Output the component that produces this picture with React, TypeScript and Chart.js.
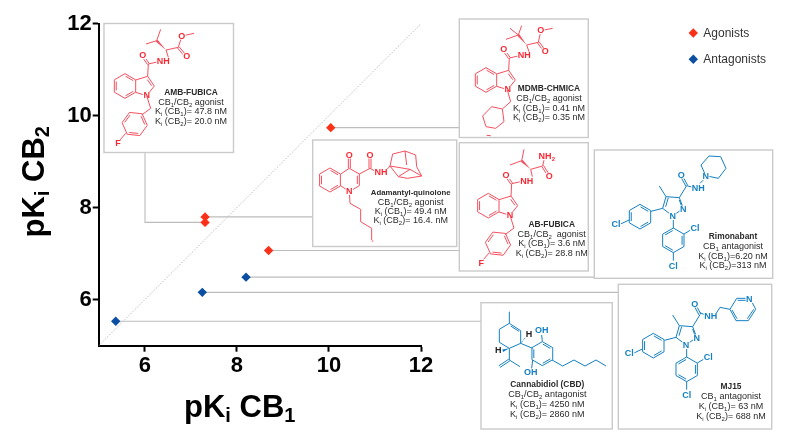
import { useEffect, useRef } from "react"
import { Chart, registerables } from "chart.js"

Chart.register(...registerables)

const FONT = '"Liberation Sans", Arial, sans-serif'
const RED_LINE = "#f4505f"
const RED_TEXT = "#f62a35"
const BLUE = "#1580c2"
const BOX_GRAY = "#cacaca"
const LEADER_GRAY = "#bcbcbc"

// pKi values
const agonistCB1 = [10.04, 7.31, 7.31, 8.69]
const agonistCB2 = [9.74, 7.8, 7.68, 7.07]
const antagonistCB1 = [8.2, 7.25, 5.37]
const antagonistCB2 = [6.49, 6.16, 5.53]
const identityLine = [5, 12]
const tickValues = [6, 8, 10, 12]

const seriesNames = ["Agonists", "Antagonists"]

type Seg = number[]
type Label = [string, number, number, string?]
type Frag = { lines: Seg[]; labels: Label[]; wedges?: Seg[]; dashes?: Seg[] }

// ---- little helpers for the structures, coordinates are 3x crop units
function hex(cx: number, cy: number, r: number, rot = 0, first = 0): Seg[] {
  const pts: number[][] = []
  for (let i = 0; i < 6; i++) {
    const a = ((-90 + rot + i * 60) * Math.PI) / 180
    pts.push([cx + r * Math.cos(a), cy + r * Math.sin(a)])
  }
  const out: Seg[] = [[...pts.flat(), pts[0][0], pts[0][1]]]
  if (first >= 0) {
    for (let i = first; i < first + 6; i += 2) {
      const p = pts[i % 6]
      const q = pts[(i + 1) % 6]
      const mx = (p[0] + q[0]) / 2
      const my = (p[1] + q[1]) / 2
      const k = 0.72
      const ix = cx + (mx - cx) * 0.82
      const iy = cy + (my - cy) * 0.82
      out.push([ix + ((p[0] - mx) * k), iy + ((p[1] - my) * k), ix + ((q[0] - mx) * k), iy + ((q[1] - my) * k)])
    }
  }
  return out
}

function dbl(x1: number, y1: number, x2: number, y2: number): Seg[] {
  const l = Math.hypot(x2 - x1, y2 - y1)
  const nx = ((y2 - y1) / l) * 3
  const ny = (-(x2 - x1) / l) * 3
  return [
    [x1 + nx, y1 + ny, x2 + nx, y2 + ny],
    [x1 - nx, y1 - ny, x2 - nx, y2 - ny],
  ]
}

const indoleAmide: Frag = {
  lines: [
    ...hex(195, 258, 37, 0, 0),
    [227, 240, 263, 229, 283, 258, 260, 287, 227, 277],
    [262, 239, 275, 257],
    [263, 229, 265, 192],
    ...dbl(265, 192, 248, 168),
    [265, 192, 300, 184],
  ],
  labels: [["O", 248, 167], ["NH", 310, 185], ["N", 260, 287]],
}

const fluoroBenzyl: Frag = {
  lines: [[260, 287, 272, 325, 245, 345], ...hex(224, 372, 38, -24, 1), [197, 400, 180, 420]],
  labels: [["F", 174, 430]],
}

const ambTail: Frag = {
  lines: [
    [318, 150, 325, 172],
    [318, 150, 355, 142, 365, 110],
    ...dbl(355, 142, 378, 170),
    [365, 108, 402, 100],
    [290, 122, 258, 132],
    [290, 122, 302, 88],
  ],
  wedges: [[318, 150, 290, 122]],
  labels: [["O", 365, 108], ["O", 380, 170]],
}

const mdmbTail: Frag = {
  lines: [
    [680, 105, 687, 125],
    [680, 105, 715, 97, 722, 65],
    ...dbl(715, 97, 735, 125),
    [722, 62, 758, 55],
    [655, 75, 618, 88],
    [655, 75, 630, 55],
    [655, 75, 665, 47],
    [622, 240, 632, 275, 607, 297],
    [607, 297, 612, 335, 587, 355, 558, 350, 548, 318, 575, 290, 607, 297],
    [560, 376, 572, 377],
  ],
  wedges: [[680, 105, 655, 75]],
  labels: [["O", 722, 62], ["O", 736, 125]],
}

const abTail: Frag = {
  lines: [
    [692, 478, 697, 500],
    [692, 478, 728, 468, 732, 450],
    ...dbl(728, 468, 746, 496),
    [665, 452, 630, 465],
    [665, 452, 672, 418],
  ],
  wedges: [[692, 478, 665, 452]],
  labels: [["NH2", 735, 440], ["O", 748, 499]],
}

const quinolone: Frag = {
  lines: [
    ...hex(90, 510, 36, 0, 0),
    [122, 492, 148, 475, 178, 492, 178, 527, 148, 545, 122, 527],
    [172, 497, 172, 522],
    ...dbl(148, 475, 148, 437),
    [178, 492, 210, 475, 232, 487],
    ...dbl(210, 475, 210, 437),
    [256, 484, 270, 468],
    [270, 468, 278, 432, 315, 423, 347, 435, 350, 470, 365, 498, 322, 505, 295, 500, 270, 468],
    [315, 423, 320, 465],
    [270, 468, 330, 478, 365, 498],
    [295, 500, 330, 478],
    [148, 545, 150, 580, 182, 598, 182, 635, 215, 655, 215, 690],
    [215, 693, 220, 693],
  ],
  labels: [["O", 148, 435], ["O", 210, 435], ["NH", 243, 488], ["N", 148, 544]],
}

// rimonabant crop units; MJ15 reuses it with a shift
const pyrazole: Frag = {
  lines: [
    [228, 500, 268, 503, 280, 535, 248, 558, 218, 535, 228, 500],
    [235, 503, 227, 530],
    [268, 510, 276, 532],
    [228, 500, 208, 468],
    [268, 503, 290, 467],
    ...dbl(290, 467, 274, 437),
    ...hex(150, 560, 37, 0, 0),
    [218, 535, 183, 544],
    [117, 570, 92, 582],
    [250, 570, 250, 595],
    ...hex(250, 631, 37, 0, 1),
    [282, 612, 302, 600],
    [250, 668, 250, 692],
  ],
  labels: [["N", 280, 537], ["N", 248, 559], ["Cl", 78, 584], ["Cl", 315, 596], ["Cl", 250, 708], ["O", 274, 435]],
}

const piperidine: Frag = {
  lines: [
    [290, 467, 312, 473],
    [330, 460, 345, 445],
    [347, 437, 333, 405, 357, 378, 392, 380, 408, 415, 385, 445, 347, 437],
  ],
  labels: [["NH", 325, 474], ["N", 347, 440]],
}

const pyridylMethyl: Frag = {
  lines: [
    [690, 98, 708, 106],
    [735, 106, 750, 82, 780, 88],
    [780, 88, 800, 55, 828, 55],
    [847, 68, 857, 88, 835, 122, 798, 122, 780, 88],
    [803, 61, 828, 61],
    [851, 88, 832, 116],
    [801, 116, 786, 90],
  ],
  labels: [["NH", 722, 110], ["N", 838, 57]],
}

const cannabidiol: Frag = {
  lines: [
    [118, 95, 118, 130],
    [118, 130, 152, 152, 152, 190, 118, 205, 88, 187, 88, 148, 118, 130],
    [122, 138, 147, 154],
    [152, 190, 188, 205],
    ...hex(217, 221, 36, 0, 0),
    [217, 185, 215, 165],
    [188, 240, 185, 265],
    [246, 240, 278, 258, 312, 240, 345, 258, 378, 240, 408, 258],
    [118, 205, 118, 240, 150, 260],
    ...dbl(118, 240, 88, 260),
  ],
  wedges: [[118, 205, 98, 212]],
  dashes: [[152, 190, 170, 168]],
  labels: [["OH", 215, 150], ["OH", 182, 278]],
}

const cbdHydrogens: Frag = {
  lines: [],
  labels: [["H", 177, 162, "#222"], ["H", 85, 212, "#222"]],
}

type Placed = { frag: Frag; ox: number; oy: number; dx?: number; dy?: number; color: string; text?: string }

const molecules: Placed[] = [
  { frag: indoleAmide, ox: 60, oy: 0, color: RED_LINE, text: RED_TEXT },
  { frag: fluoroBenzyl, ox: 60, oy: 0, color: RED_LINE, text: RED_TEXT },
  { frag: ambTail, ox: 60, oy: 0, color: RED_LINE, text: RED_TEXT },
  { frag: indoleAmide, ox: 300, oy: 10, dx: 363, dy: -48, color: RED_LINE, text: RED_TEXT },
  { frag: mdmbTail, ox: 300, oy: 10, color: RED_LINE, text: RED_TEXT },
  { frag: indoleAmide, ox: 300, oy: 10, dx: 370, dy: 329, color: RED_LINE, text: RED_TEXT },
  { frag: fluoroBenzyl, ox: 300, oy: 10, dx: 370, dy: 329, color: RED_LINE, text: RED_TEXT },
  { frag: abTail, ox: 300, oy: 10, color: RED_LINE, text: RED_TEXT },
  { frag: quinolone, ox: 300, oy: 10, color: RED_LINE, text: RED_TEXT },
  { frag: pyrazole, ox: 590, oy: 30, color: BLUE },
  { frag: piperidine, ox: 590, oy: 30, color: BLUE },
  { frag: pyrazole, ox: 470, oy: 280, dx: 400, dy: -363, color: BLUE },
  { frag: pyridylMethyl, ox: 470, oy: 280, color: BLUE },
  { frag: cannabidiol, ox: 470, oy: 280, color: BLUE },
  { frag: cbdHydrogens, ox: 470, oy: 280, color: BLUE },
]

// compound cards: box, text centre and four baselines
const cards = [
  { box: [104, 23.5, 129.5, 129], cx: 191, base: [95, 104.7, 114, 124], nameSize: 8.4, name: "AMB-FUBICA", role: "CB_1/CB_2 agonist", k1: "K_i (CB_1)= 47.8 nM", k2: "K_i (CB_2)= 20.0 nM" },
  { box: [312.7, 140, 144, 106.5], cx: 410.7, base: [195.3, 205, 213.5, 222.7], nameSize: 7.8, name: "Adamantyl-quinolone", role: "CB_1/CB_2 agonist", k1: "K_i (CB_1)= 49.4 nM", k2: "K_i (CB_2)= 16.4. nM" },
  { box: [459.3, 19, 129, 118.5], cx: 549, base: [91, 100.7, 110.7, 120], nameSize: 8.4, name: "MDMB-CHMICA", role: "CB_1/CB_2 agonist", k1: "K_i (CB_1)= 0.41 nM", k2: "K_i (CB_2)= 0.35 nM" },
  { box: [459.3, 142.7, 129, 128.3], cx: 551.7, base: [226.7, 236.7, 246, 256], nameSize: 8.4, name: "AB-FUBICA", role: "CB_1/CB_2  agonist", k1: "K_i (CB_1)= 3.6 nM", k2: "K_i (CB_2)= 28.8 nM" },
  { box: [594.3, 150, 178.4, 128.3], cx: 733, base: [239.3, 249.3, 259, 268.3], nameSize: 8.4, name: "Rimonabant", role: "CB_1 antagonist", k1: "K_i (CB_1)=6.20 nM", k2: "K_i (CB_2)=313 nM" },
  { box: [618.3, 284.3, 153.4, 144.7], cx: 731, base: [389.3, 399.3, 409, 418.7], nameSize: 8.4, name: "MJ15", role: "CB_1 antagonist", k1: "K_i (CB_1)= 63 nM", k2: "K_i (CB_2)= 688 nM" },
  { box: [481, 302.7, 131.3, 126.3], cx: 547.3, base: [387.3, 396.7, 406.7, 416.7], nameSize: 8.4, name: "Cannabidiol (CBD)", role: "CB_1/CB_2 antagonist", k1: "K_i (CB_1)= 4250 nM", k2: "K_i (CB_2)= 2860 nM" },
]

// where the thin line from each point stops on the right, 0 = elbow up to a card
const agonistLeaderEnds = [459, 313, 0, 459]
const antagonistLeaderEnds = [594, 618, 481]

function richWidth(ctx: CanvasRenderingContext2D, text: string, size: number, subSize: number, weight: string) {
  let w = 0
  for (const part of text.split(/(_\S)/)) {
    if (!part) continue
    const sub = part[0] === "_"
    ctx.font = `${weight} ${sub ? subSize : size}px ${FONT}`
    w += ctx.measureText(sub ? part.slice(1) : part).width
  }
  return w
}

function drawRich(ctx: CanvasRenderingContext2D, text: string, x: number, y: number, size: number, subSize: number, drop: number, weight: string, color: string) {
  ctx.fillStyle = color
  ctx.textAlign = "left"
  ctx.textBaseline = "alphabetic"
  let cur = x
  for (const part of text.split(/(_\S)/)) {
    if (!part) continue
    const sub = part[0] === "_"
    const s = sub ? part.slice(1) : part
    ctx.font = `${weight} ${sub ? subSize : size}px ${FONT}`
    ctx.fillText(s, cur, sub ? y + drop : y)
    cur += ctx.measureText(s).width
  }
}

function drawMolecule(ctx: CanvasRenderingContext2D, m: Placed) {
  const dx = m.dx ?? 0
  const dy = m.dy ?? 0
  const X = (v: number) => m.ox + (v + dx) / 3
  const Y = (v: number) => m.oy + (v + dy) / 3
  ctx.strokeStyle = m.color
  ctx.fillStyle = m.color
  ctx.lineWidth = 1
  ctx.lineJoin = "round"
  for (const l of m.frag.lines) {
    ctx.beginPath()
    ctx.moveTo(X(l[0]), Y(l[1]))
    for (let i = 2; i < l.length; i += 2) ctx.lineTo(X(l[i]), Y(l[i + 1]))
    ctx.stroke()
  }
  for (const w of m.frag.wedges ?? []) {
    const len = Math.hypot(w[2] - w[0], w[3] - w[1])
    const nx = ((w[3] - w[1]) / len) * 4
    const ny = (-(w[2] - w[0]) / len) * 4
    ctx.beginPath()
    ctx.moveTo(X(w[0]), Y(w[1]))
    ctx.lineTo(X(w[2] + nx), Y(w[3] + ny))
    ctx.lineTo(X(w[2] - nx), Y(w[3] - ny))
    ctx.closePath()
    ctx.fill()
  }
  for (const w of m.frag.dashes ?? []) {
    ctx.save()
    ctx.setLineDash([1, 1])
    ctx.beginPath()
    ctx.moveTo(X(w[0]), Y(w[1]))
    ctx.lineTo(X(w[2]), Y(w[3]))
    ctx.stroke()
    ctx.restore()
  }
  ctx.textBaseline = "middle"
  for (const [t, lx, ly, col] of m.frag.labels) {
    const isSub = t === "NH2"
    const txt = isSub ? "NH" : t
    ctx.font = `bold 9px ${FONT}`
    const w = ctx.measureText(txt).width
    ctx.fillStyle = "#fff"
    ctx.fillRect(X(lx) - w / 2 - 0.5, Y(ly) - 3.5, w + 1, 7)
    ctx.fillStyle = col ?? m.text ?? m.color
    ctx.textAlign = "center"
    ctx.textBaseline = "middle"
    ctx.fillText(txt, X(lx), Y(ly) + 0.3)
    if (isSub) {
      ctx.font = `bold 6px ${FONT}`
      ctx.fillText("2", X(lx) + w / 2 + 2, Y(ly) + 2.5)
    }
  }
}

const leaderPlugin = {
  id: "leaders",
  beforeDatasetsDraw(chart: any) {
    const { ctx, scales } = chart
    const sx = scales.x
    const sy = scales.y
    ctx.save()
    ctx.strokeStyle = LEADER_GRAY
    ctx.lineWidth = 1.1
    const line = (pts: number[][]) => {
      ctx.beginPath()
      ctx.moveTo(pts[0][0], pts[0][1])
      pts.slice(1).forEach((p) => ctx.lineTo(p[0], p[1]))
      ctx.stroke()
    }
    agonistCB1.forEach((v, i) => {
      const px = sx.getPixelForValue(v)
      const py = sy.getPixelForValue(agonistCB2[i])
      if (agonistLeaderEnds[i]) line([[px, py], [agonistLeaderEnds[i], py]])
      else line([[px, py], [145, py], [145, 152]]) // elbow up to the AMB-FUBICA card
    })
    antagonistCB1.forEach((v, i) => {
      const py = sy.getPixelForValue(antagonistCB2[i])
      line([[sx.getPixelForValue(v), py], [antagonistLeaderEnds[i], py]])
    })
    ctx.restore()
  },
}

const cardsPlugin = {
  id: "cards",
  afterDatasetsDraw(chart: any) {
    const { ctx } = chart
    ctx.save()
    for (const c of cards) {
      ctx.fillStyle = "#fff"
      ctx.strokeStyle = BOX_GRAY
      ctx.lineWidth = 1.4
      ctx.fillRect(c.box[0], c.box[1], c.box[2], c.box[3])
      ctx.strokeRect(c.box[0], c.box[1], c.box[2], c.box[3])
    }
    molecules.forEach((m) => drawMolecule(ctx, m))
    for (const c of cards) {
      const rows = [c.name, c.role, c.k1, c.k2]
      rows.forEach((t, i) => {
        const weight = i === 0 ? "bold" : "normal"
        const size = i === 0 ? c.nameSize : 9
        const w = richWidth(ctx, t, size, 6, weight)
        drawRich(ctx, t, c.cx - w / 2, c.base[i], size, 6, 2, weight, "#2a2a2a")
      })
    }

    // legend
    const colors = ["#fb3018", "#0b4ea2"]
    seriesNames.forEach((n, i) => {
      const y = i === 0 ? 33 : 59.3
      ctx.fillStyle = colors[i]
      ctx.beginPath()
      ctx.moveTo(693.3, y - 4.7)
      ctx.lineTo(698, y)
      ctx.lineTo(693.3, y + 4.7)
      ctx.lineTo(688.6, y)
      ctx.closePath()
      ctx.fill()
      ctx.fillStyle = "#333"
      ctx.font = `12px ${FONT}`
      ctx.textAlign = "left"
      ctx.textBaseline = "alphabetic"
      ctx.fillText(n, 703.3, i === 0 ? 36.5 : 62.5)
    })

    // axis titles, drawn here because of the subscripts
    drawRich(ctx, "pK_i CB_1", 184, 416.5, 31, 20, 5, "bold", "#000")
    ctx.translate(43.5, 237.5)
    ctx.rotate(-Math.PI / 2)
    drawRich(ctx, "pK_i CB_2", 0, 0, 31, 20, 5, "bold", "#000")
    ctx.restore()
  },
}

function axis(fixed: (s: any) => void) {
  return {
    type: "linear" as const,
    min: 5,
    max: 12,
    afterBuildTicks: (s: any) => {
      s.ticks = tickValues.map((value) => ({ value }))
    },
    afterFit: fixed,
    border: { color: "#000", width: 2 },
    grid: { drawOnChartArea: false, tickLength: 6, tickColor: "#000", tickWidth: 2 },
    ticks: {
      color: "#000",
      padding: 1,
      autoSkip: false,
      maxRotation: 0,
      font: { family: FONT, size: 22, weight: "bold" as const },
    },
  }
}

export default function App() {
  const chartRef = useRef<HTMLCanvasElement>(null)

  useEffect(() => {
    if (!chartRef.current) return
    document.body.style.margin = "0"
    const chart = new Chart(chartRef.current, {
      type: "scatter",
      data: {
        datasets: [
          {
            label: "CB1 = CB2",
            data: identityLine.map((v) => ({ x: v, y: v })),
            showLine: true,
            borderColor: "#bdbdbd",
            borderWidth: 1,
            borderDash: [1.5, 1.5],
            pointRadius: 0,
          },
          {
            label: seriesNames[0],
            data: agonistCB1.map((x, i) => ({ x, y: agonistCB2[i] })),
            pointStyle: "rectRot",
            pointRadius: 4.7,
            backgroundColor: "#fb3018",
            borderColor: "#fb3018",
            borderWidth: 0,
          },
          {
            label: seriesNames[1],
            data: antagonistCB1.map((x, i) => ({ x, y: antagonistCB2[i] })),
            pointStyle: "rectRot",
            pointRadius: 4.7,
            backgroundColor: "#0b4ea2",
            borderColor: "#0b4ea2",
            borderWidth: 0,
          },
        ],
      },
      options: {
        responsive: false,
        animation: false,
        layout: { padding: { top: 23.7, right: 368, left: 0, bottom: 0 } },
        plugins: { legend: { display: false }, tooltip: { enabled: false } },
        scales: {
          x: axis((s) => { s.height = 102.3 }),
          y: axis((s) => { s.width = 98.7 }),
        },
      },
      plugins: [leaderPlugin, cardsPlugin],
    })
    return () => chart.destroy()
  }, [])

  return (
    <div style={{ position: "absolute", left: 0, top: 0, width: 789, height: 448 }}>
      <canvas ref={chartRef} width={789} height={448} style={{ display: "block" }}></canvas>
    </div>
  )
}
